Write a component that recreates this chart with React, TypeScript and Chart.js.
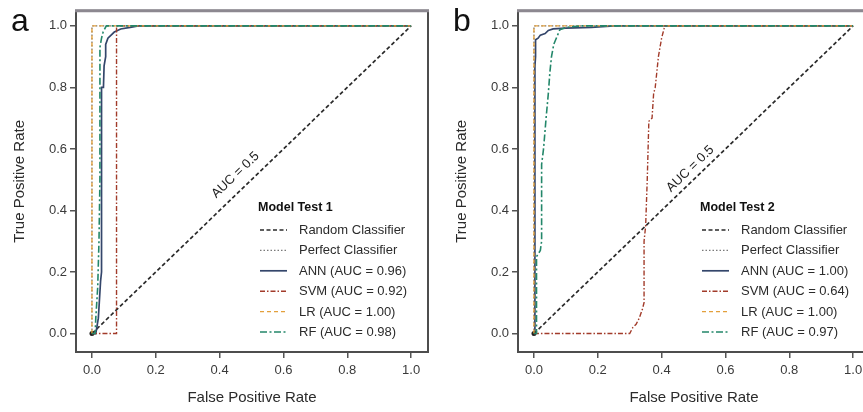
import React, { useEffect, useRef } from "react";
import { Chart, registerables } from "chart.js";

Chart.register(...registerables);

// Axis ticks shared by both ROC panels
const rateTicks = [0, 0.2, 0.4, 0.6, 0.8, 1.0];

// Reference lines
const randomFpr = [0, 1];
const randomTpr = [0, 1];
const perfectFpr = [0, 0, 1];
const perfectTpr = [0, 1, 1];

// Model Test 1 curves
const annFpr1 = [0, 0.012, 0.02, 0.027, 0.03, 0.03, 0.036, 0.038, 0.043, 0.043, 0.05, 0.06, 0.07, 0.09, 0.12, 0.145, 1];
const annTpr1 = [0, 0, 0.05, 0.17, 0.2, 0.8, 0.8, 0.87, 0.9, 0.94, 0.96, 0.97, 0.98, 0.99, 0.995, 1, 1];
const svmFpr1 = [0, 0.077, 0.077, 1];
const svmTpr1 = [0, 0, 1, 1];
const lrFpr1 = [0, 0, 1];
const lrTpr1 = [0, 1, 1];
const rfFpr1 = [0, 0.01, 0.012, 0.018, 0.022, 0.025, 0.025, 0.03, 0.035, 0.045, 1];
const rfTpr1 = [0, 0, 0.05, 0.15, 0.3, 0.5, 0.93, 0.96, 0.98, 1, 1];
const auc1 = [0.96, 0.92, 1.0, 0.98];

// Model Test 2 curves
const annFpr2 = [0, 0.003, 0.003, 0.005, 0.005, 0.013, 0.02, 0.035, 0.045, 0.06, 0.1, 0.18, 0.25, 1];
const annTpr2 = [0, 0, 0.87, 0.9, 0.955, 0.96, 0.97, 0.975, 0.985, 0.99, 0.993, 0.995, 1, 1];
const svmFpr2 = [0, 0.3, 0.31, 0.32, 0.33, 0.34, 0.345, 0.345, 0.35, 0.355, 0.36, 0.37, 0.375, 0.38, 0.385, 0.39, 0.395, 0.4, 0.405, 0.41, 1];
const svmTpr2 = [0, 0, 0.02, 0.03, 0.05, 0.08, 0.1, 0.3, 0.35, 0.5, 0.69, 0.7, 0.78, 0.8, 0.85, 0.9, 0.93, 0.96, 0.98, 1, 1];
const lrFpr2 = [0, 0, 1];
const lrTpr2 = [0, 1, 1];
const rfFpr2 = [0, 0.008, 0.008, 0.02, 0.024, 0.024, 0.03, 0.038, 0.045, 0.05, 0.055, 0.062, 0.07, 0.081, 0.1, 0.15, 1];
const rfTpr2 = [0, 0, 0.25, 0.27, 0.3, 0.55, 0.6, 0.7, 0.78, 0.85, 0.9, 0.94, 0.96, 0.987, 0.995, 1, 1];
const auc2 = [1.0, 0.64, 1.0, 0.97];

const modelNames = ["ANN", "SVM", "LR", "RF"];

const FONT = "'Liberation Sans', Arial, Helvetica, sans-serif";

type SeriesStyle = { color: string; dash: number[]; width: number };

const styles: SeriesStyle[] = [
  { color: "#2a2a2a", dash: [4, 2.5], width: 1.7 }, // random
  { color: "#7a7a7a", dash: [1.5, 2], width: 1.3 }, // perfect
  { color: "#34466b", dash: [], width: 1.7 }, // ANN
  { color: "#a23b2a", dash: [5, 2, 1.5, 2], width: 1.4 }, // SVM
  { color: "#e3a03c", dash: [4, 3], width: 1.4 }, // LR
  { color: "#23876a", dash: [7, 2.5, 2, 2.5], width: 1.6 }, // RF
];

function pts(xs: number[], ys: number[]) {
  return xs.map((x, i) => ({ x, y: ys[i] }));
}

type PanelProps = {
  left: number;
  letter: string;
  title: string;
  curves: { x: number; y: number }[][];
  auc: number[];
  aucPos: { x: number; y: number };
};

function RocPanel({ left, letter, title, curves, auc, aucPos }: PanelProps) {
  const ref = useRef<HTMLCanvasElement | null>(null);

  useEffect(() => {
    const canvas = ref.current;
    if (!canvas) return;

    const labels = [
      "Random Classifier",
      "Perfect Classifier",
      ...modelNames.map((n, i) => `${n} (AUC = ${auc[i].toFixed(2)})`),
    ];

    const decor = {
      id: "rocDecor",
      beforeDraw(chart: any) {
        const { ctx, width, height } = chart;
        ctx.save();
        ctx.fillStyle = "#ffffff";
        ctx.fillRect(0, 0, width, height);
        ctx.restore();
      },
      afterDraw(chart: any) {
        const { ctx, chartArea } = chart;
        const xs = chart.scales.x;
        const ys = chart.scales.y;
        ctx.save();

        // plot frame
        ctx.strokeStyle = "#4d4d4d";
        ctx.lineWidth = 2;
        ctx.setLineDash([]);
        ctx.strokeRect(chartArea.left, chartArea.top, chartArea.right - chartArea.left, chartArea.bottom - chartArea.top);
        ctx.strokeStyle = "#8c8890";
        ctx.lineWidth = 3;
        ctx.beginPath();
        ctx.moveTo(chartArea.left - 1, chartArea.top);
        ctx.lineTo(chartArea.right + 1, chartArea.top);
        ctx.stroke();

        // panel letter
        ctx.fillStyle = "#111";
        ctx.font = `32px ${FONT}`;
        ctx.textAlign = "left";
        ctx.textBaseline = "alphabetic";
        ctx.fillText(letter, 11, 31);

        // diagonal annotation
        const px = xs.getPixelForValue(aucPos.x);
        const py = ys.getPixelForValue(aucPos.y);
        const ang = Math.atan2(ys.getPixelForValue(0) - ys.getPixelForValue(1), xs.getPixelForValue(1) - xs.getPixelForValue(0));
        ctx.translate(px, py);
        ctx.rotate(-ang);
        ctx.font = `13px ${FONT}`;
        ctx.fillStyle = "#222";
        ctx.textAlign = "center";
        ctx.textBaseline = "middle";
        ctx.fillText("AUC = 0.5", 0, 0);
        ctx.setTransform(1, 0, 0, 1, 0, 0);

        // legend
        const lx = chartArea.left + 182;
        ctx.font = `bold 12.5px ${FONT}`;
        ctx.fillStyle = "#111";
        ctx.textAlign = "left";
        ctx.textBaseline = "middle";
        ctx.fillText(title, lx, 208);
        ctx.font = `13px ${FONT}`;
        labels.forEach((lab, i) => {
          const y = 230 + i * 20.4;
          const st = styles[i];
          ctx.strokeStyle = st.color;
          ctx.lineWidth = st.width;
          ctx.setLineDash(st.dash);
          ctx.beginPath();
          ctx.moveTo(lx + 2, y);
          ctx.lineTo(lx + 29, y);
          ctx.stroke();
          ctx.setLineDash([]);
          ctx.fillStyle = "#2b2b2b";
          ctx.fillText(lab, lx + 41, y + 0.5);
        });
        ctx.restore();
      },
    };

    const tickSetup = (scale: any) => {
      scale.ticks = rateTicks.map((v) => ({ value: v }));
    };

    const chart = new Chart(canvas, {
      type: "line",
      data: {
        datasets: curves.map((c, i) => ({
          data: c,
          borderColor: styles[i].color,
          borderWidth: styles[i].width,
          borderDash: styles[i].dash,
          pointRadius: (ctx: any) => (i === 2 && ctx.dataIndex === 0 ? 2.5 : 0),
          pointBackgroundColor: "#222",
          pointBorderWidth: 0,
          fill: false,
          tension: 0,
          order: curves.length - i,
        })),
      },
      options: {
        animation: false,
        responsive: false,
        devicePixelRatio: 1,
        parsing: false,
        layout: { padding: { left: 0, right: 2, top: 10, bottom: 0 } },
        plugins: { legend: { display: false }, tooltip: { enabled: false } },
        scales: {
          x: {
            type: "linear",
            min: -0.05,
            max: 1.053,
            afterBuildTicks: tickSetup,
            afterFit: (s: any) => {
              s.height = 60;
            },
            border: { display: false },
            grid: { drawOnChartArea: false, drawTicks: true, tickLength: 6, color: "#555", lineWidth: 1.5 },
            ticks: {
              autoSkip: false,
              maxRotation: 0,
              padding: 5,
              color: "#3a3a3a",
              font: { size: 13, family: FONT },
              callback: (v: any) => Number(v).toFixed(1),
            },
            title: {
              display: true,
              text: "False Positive Rate",
              color: "#2b2b2b",
              font: { size: 15, family: FONT },
              padding: { top: 0, bottom: 5 },
            },
          },
          y: {
            type: "linear",
            min: -0.06,
            max: 1.049,
            afterBuildTicks: tickSetup,
            afterFit: (s: any) => {
              s.width = 76;
            },
            border: { display: false },
            grid: { drawOnChartArea: false, drawTicks: true, tickLength: 6, color: "#555", lineWidth: 1.5 },
            ticks: {
              autoSkip: false,
              padding: 3,
              color: "#3a3a3a",
              font: { size: 13, family: FONT },
              callback: (v: any) => Number(v).toFixed(1),
            },
            title: {
              display: true,
              text: "True Positive Rate",
              color: "#2b2b2b",
              font: { size: 15, family: FONT },
              padding: { top: 11, bottom: 0 },
            },
          },
        },
      },
      plugins: [decor],
    } as any);

    return () => chart.destroy();
  }, [letter, title, curves, auc, aucPos]);

  return (
    <canvas
      ref={ref}
      width={432}
      height={412}
      style={{ position: "absolute", left, top: 0, width: 432, height: 412, display: "block" }}
    />
  );
}

const curves1 = [
  pts(randomFpr, randomTpr),
  pts(perfectFpr, perfectTpr),
  pts(annFpr1, annTpr1),
  pts(svmFpr1, svmTpr1),
  pts(lrFpr1, lrTpr1),
  pts(rfFpr1, rfTpr1),
];
const curves2 = [
  pts(randomFpr, randomTpr),
  pts(perfectFpr, perfectTpr),
  pts(annFpr2, annTpr2),
  pts(svmFpr2, svmTpr2),
  pts(lrFpr2, lrTpr2),
  pts(rfFpr2, rfTpr2),
];
const aucPos1 = { x: 0.45, y: 0.515 };
const aucPos2 = { x: 0.49, y: 0.535 };

export default function App() {
  return (
    <div
      style={{
        position: "fixed",
        left: 0,
        top: 0,
        width: 863,
        height: 412,
        overflow: "hidden",
        background: "#ffffff",
      }}
    >
      <RocPanel left={0} letter="a" title="Model Test 1" curves={curves1} auc={auc1} aucPos={aucPos1} />
      <RocPanel left={442} letter="b" title="Model Test 2" curves={curves2} auc={auc2} aucPos={aucPos2} />
    </div>
  );
}
